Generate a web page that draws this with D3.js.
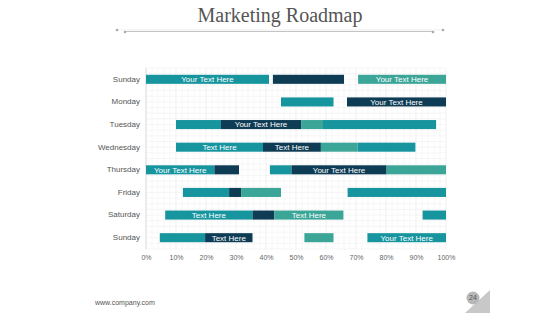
<!DOCTYPE html>
<html>
<head>
<meta charset="utf-8">
<script src="https://cdn.jsdelivr.net/npm/d3@7"></script>
<style>
  body { margin: 0; background: #fff; }
  svg { display: block; }
</style>
</head>
<body>
<svg id="chart" width="560" height="315"></svg>
<script>
// rows top to bottom
const days = ['Sunday', 'Monday', 'Tuesday', 'Wednesday', 'Thursday', 'Friday', 'Saturday', 'Sunday'];

// each segment: [start %, end %, phase, label]
const sunday1 = [[0, 41, 0, 'Your Text Here'], [42.3, 66, 1, ''], [70.7, 100, 2, 'Your Text Here']];
const monday = [[45, 62.5, 0, ''], [67, 100, 1, 'Your Text Here']];
const tuesday = [[10, 25, 0, ''], [25, 51.7, 1, 'Your Text Here'], [51.7, 59, 2, ''], [59, 96.7, 0, '']];
const wednesday = [[10, 39, 0, 'Text Here'], [39, 58.3, 1, 'Text Here'], [58.3, 70.5, 2, ''], [70.5, 89.8, 0, '']];
const thursday = [[0, 22.8, 0, 'Your Text Here'], [22.8, 31, 1, ''], [41.3, 48.5, 0, ''], [48.5, 80.2, 1, 'Your Text Here'], [80.2, 100, 2, '']];
const friday = [[12.3, 27.7, 0, ''], [27.7, 31.7, 1, ''], [31.7, 45, 2, ''], [67.2, 100, 0, '']];
const saturday = [[6.4, 35.5, 0, 'Text Here'], [35.5, 42.8, 1, ''], [42.8, 65.8, 2, 'Text Here'], [92.2, 100, 0, '']];
const sunday2 = [[4.6, 19.7, 0, ''], [19.7, 35.5, 1, 'Text Here'], [52.8, 62.5, 2, ''], [73.8, 100, 0, 'Your Text Here']];

const rows = [sunday1, monday, tuesday, wednesday, thursday, friday, saturday, sunday2];
const xTicks = [0, 10, 20, 30, 40, 50, 60, 70, 80, 90, 100];
const phaseColors = ['#17959f', '#0e3c55', '#3ba698'];

const svg = d3.select('#chart');

// title and rule
svg.append('text')
    .attr('x', 280).attr('y', 22)
    .attr('text-anchor', 'middle')
    .attr('font-family', '"Liberation Serif", serif')
    .attr('font-size', 20)
    .attr('fill', '#555')
    .text('Marketing Roadmap');

svg.append('line')
    .attr('x1', 125).attr('x2', 433).attr('y1', 31.5).attr('y2', 31.5)
    .attr('stroke', '#c4c4c4').attr('stroke-width', 1.2);
svg.append('line')
    .attr('x1', 117).attr('x2', 443).attr('y1', 30).attr('y2', 30)
    .attr('stroke', '#e2e2e2').attr('stroke-width', 0.6);
[[117, 30], [125, 32], [433, 32], [443, 30]].forEach(p => {
    svg.append('circle').attr('cx', p[0]).attr('cy', p[1]).attr('r', 1.3).attr('fill', '#aaa');
});

const x = d3.scaleLinear().domain([0, 100]).range([146, 446]);
const y = d3.scaleBand().domain(d3.range(days.length)).range([68, 249]).paddingInner(0.6).paddingOuter(0.3);

const grid = svg.append('g');
// faint minor grid
grid.selectAll('line.vminor')
    .data(d3.range(0, 101, 2))
    .enter().append('line')
    .attr('x1', d => x(d)).attr('x2', d => x(d))
    .attr('y1', 68).attr('y2', 249)
    .attr('stroke', d => d % 10 === 0 ? '#e6e6e6' : '#f2f2f2')
    .attr('stroke-width', 0.6);
grid.selectAll('line.hminor')
    .data(d3.range(0, 33))
    .enter().append('line')
    .attr('x1', x(0)).attr('x2', x(100))
    .attr('y1', d => 68 + d * 181 / 32).attr('y2', d => 68 + d * 181 / 32)
    .attr('stroke', '#f0f0f0')
    .attr('stroke-width', 0.6);
grid.append('line')
    .attr('x1', x(0)).attr('x2', x(0)).attr('y1', 68).attr('y2', 249)
    .attr('stroke', '#d8d8d8').attr('stroke-width', 0.8);

// x axis
const xAxis = svg.append('g')
    .attr('transform', 'translate(0,249)')
    .call(d3.axisBottom(x).tickValues(xTicks).tickFormat(d => d + '%').tickSize(0).tickPadding(6));
xAxis.select('.domain').remove();
xAxis.selectAll('text')
    .attr('font-family', '"Liberation Sans", Arial, sans-serif')
    .attr('font-size', 7)
    .attr('fill', '#666');

// y labels
svg.selectAll('text.day')
    .data(days)
    .enter().append('text')
    .attr('class', 'day')
    .attr('x', 140)
    .attr('y', (d, i) => y(i) + y.bandwidth() / 2)
    .attr('dy', '0.3em')
    .attr('text-anchor', 'end')
    .attr('font-family', '"Liberation Sans", Arial, sans-serif')
    .attr('font-size', 8)
    .attr('fill', '#555')
    .text(d => d);

// bars
const rowG = svg.selectAll('g.row')
    .data(rows)
    .enter().append('g')
    .attr('class', 'row')
    .attr('transform', (d, i) => `translate(0,${y(i)})`);

rowG.selectAll('rect')
    .data(d => d)
    .enter().append('rect')
    .attr('x', d => x(d[0]))
    .attr('width', d => x(d[1]) - x(d[0]))
    .attr('y', 0)
    .attr('height', y.bandwidth())
    .attr('fill', d => phaseColors[d[2]]);

rowG.selectAll('text')
    .data(d => d.filter(s => s[3]))
    .enter().append('text')
    .attr('x', d => (x(d[0]) + x(d[1])) / 2)
    .attr('y', y.bandwidth() / 2)
    .attr('dy', '0.36em')
    .attr('text-anchor', 'middle')
    .attr('font-family', '"Liberation Sans", Arial, sans-serif')
    .attr('font-size', 8)
    .attr('fill', '#fff')
    .text(d => d[3]);

// footer
svg.append('text')
    .attr('x', 95).attr('y', 305)
    .attr('font-family', '"Liberation Sans", Arial, sans-serif')
    .attr('font-size', 7)
    .attr('fill', '#555')
    .text('www.company.com');

svg.append('path')
    .attr('d', 'M465,313 L490,290 L490,313 Z')
    .attr('fill', '#c8c8c8');
svg.append('circle')
    .attr('cx', 473).attr('cy', 298).attr('r', 6.5)
    .attr('fill', '#b8b8b8');
svg.append('text')
    .attr('x', 473).attr('y', 298).attr('dy', '0.35em')
    .attr('text-anchor', 'middle')
    .attr('font-family', '"Liberation Sans", Arial, sans-serif')
    .attr('font-size', 7)
    .attr('fill', '#555')
    .text('24');
</script>
</body>
</html>
